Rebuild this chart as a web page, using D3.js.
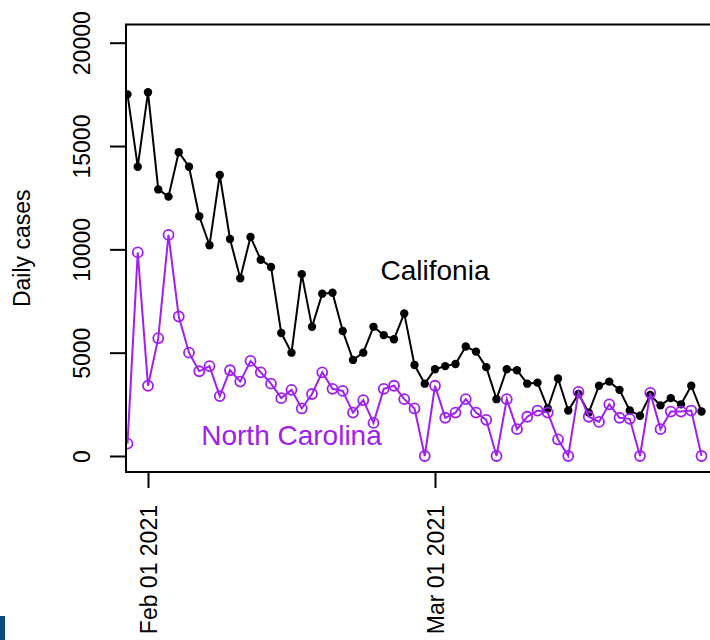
<!DOCTYPE html>
<html>
<head>
<meta charset="utf-8">
<script src="https://cdn.jsdelivr.net/npm/d3@7"></script>
<style>
  html, body { margin: 0; padding: 0; background: #fff; }
  svg { display: block; font-family: "Liberation Sans", Arial, Helvetica, sans-serif; }
</style>
</head>
<body>
<svg id="chart" width="710" height="640"></svg>
<script>
// Daily reported cases, 30 Jan 2021 to 27 Mar 2021
const startDate = new Date(2021, 0, 30);
const california = [17500, 14000, 17600, 12900, 12550, 14700, 14000, 11600, 10200, 13600,
  10500, 8600, 10600, 9500, 9150, 5950, 5000, 8800, 6250, 7850,
  7900, 6050, 4650, 5000, 6250, 5850, 5650, 6900, 4400, 3500,
  4200, 4350, 4450, 5300, 5050, 4300, 2750, 4200, 4150, 3500,
  3550, 2300, 3750, 2200, 3000, 2100, 3400, 3600, 3200, 2200,
  1950, 2950, 2450, 2800, 2500, 3400, 2150];
const northCarolina = [600, 9850, 3400, 5700, 10700, 6750, 5000, 4100, 4350, 2900,
  4150, 3600, 4600, 4050, 3500, 2800, 3200, 2300, 3000, 4050,
  3250, 3150, 2100, 2700, 1600, 3250, 3400, 2750, 2300, 0,
  3400, 1850, 2100, 2750, 2100, 1750, 0, 2750, 1300, 1900,
  2200, 2100, 800, 0, 3100, 1900, 1650, 2500, 1850, 1800,
  0, 3050, 1300, 2150, 2150, 2200, 0];
const dates = d3.timeDay.range(startDate, d3.timeDay.offset(startDate, california.length));

const yTicks = [0, 5000, 10000, 15000, 20000];
const xTicks = [new Date(2021, 1, 1), new Date(2021, 2, 1)];
const yLabel = "Daily cases";
const labelCA = { text: "Califonia", date: new Date(2021, 2, 1), value: 9000 };
const labelNC = { text: "North Carolina", date: new Date(2021, 1, 15), value: 1000 };

const svg = d3.select("#chart");
const box = { left: 126, top: 24.5, right: 730, bottom: 472 };

const x = d3.scaleTime()
  .domain([new Date(2021, 1, 1), new Date(2021, 2, 1)])
  .range([148, 435]);
const y = d3.scaleLinear()
  .domain([0, 20000])
  .range([456, 42.7]);

// clip region for the plotted data
svg.append("defs").append("clipPath").attr("id", "plotclip")
  .append("rect")
  .attr("x", box.left).attr("y", box.top)
  .attr("width", box.right - box.left).attr("height", box.bottom - box.top);

const plot = svg.append("g").attr("clip-path", "url(#plotclip)");

const line = d3.line()
  .x((d, i) => x(dates[i]))
  .y(d => y(d));

// California: black line with filled dots
plot.append("path")
  .datum(california)
  .attr("fill", "none")
  .attr("stroke", "#000")
  .attr("stroke-width", 2)
  .attr("d", line);
plot.append("g").selectAll("circle")
  .data(california)
  .join("circle")
  .attr("cx", (d, i) => x(dates[i]))
  .attr("cy", d => y(d))
  .attr("r", 4.2)
  .attr("fill", "#000");

// North Carolina: purple line with open circles
const purple = "#A020F0";
plot.append("path")
  .datum(northCarolina)
  .attr("fill", "none")
  .attr("stroke", purple)
  .attr("stroke-width", 2)
  .attr("d", line);
plot.append("g").selectAll("circle")
  .data(northCarolina)
  .join("circle")
  .attr("cx", (d, i) => x(dates[i]))
  .attr("cy", d => y(d))
  .attr("r", 5)
  .attr("fill", "none")
  .attr("stroke", purple)
  .attr("stroke-width", 1.8);

// series annotations
svg.append("text")
  .attr("x", x(labelCA.date)).attr("y", y(labelCA.value))
  .attr("text-anchor", "middle").attr("dominant-baseline", "central")
  .attr("font-size", 28).attr("fill", "#000")
  .text(labelCA.text);
svg.append("text")
  .attr("x", x(labelNC.date)).attr("y", y(labelNC.value))
  .attr("text-anchor", "middle").attr("dominant-baseline", "central")
  .attr("font-size", 28).attr("fill", purple)
  .text(labelNC.text);

// plot frame
svg.append("rect")
  .attr("x", box.left).attr("y", box.top)
  .attr("width", box.right - box.left).attr("height", box.bottom - box.top)
  .attr("fill", "none").attr("stroke", "#000").attr("stroke-width", 2);

// y axis
const yAxis = svg.append("g")
  .attr("transform", `translate(${box.left},0)`)
  .call(d3.axisLeft(y).tickValues(yTicks).tickSize(16).tickSizeOuter(0).tickFormat(d3.format("d")));
yAxis.select(".domain").remove();
yAxis.selectAll(".tick line").attr("stroke", "#000").attr("stroke-width", 2);
yAxis.selectAll(".tick text")
  .attr("transform", "rotate(-90)")
  .attr("x", 0).attr("y", -36).attr("dy", null)
  .attr("text-anchor", "middle")
  .attr("font-size", 23).attr("font-family", null).attr("fill", "#000");

// x axis
const xAxis = svg.append("g")
  .attr("transform", `translate(0,${box.bottom})`)
  .call(d3.axisBottom(x).tickValues(xTicks).tickSize(16).tickSizeOuter(0).tickFormat(d3.timeFormat("%b %d %Y")));
xAxis.select(".domain").remove();
xAxis.selectAll(".tick line").attr("stroke", "#000").attr("stroke-width", 2);
xAxis.selectAll(".tick text")
  .attr("transform", "rotate(-90)")
  .attr("x", -33).attr("y", 8).attr("dy", null)
  .attr("text-anchor", "end")
  .attr("font-size", 23).attr("font-family", null).attr("fill", "#000");

// y axis title
svg.append("text")
  .attr("transform", `translate(29.5,${(box.top + box.bottom) / 2}) rotate(-90)`)
  .attr("text-anchor", "middle")
  .attr("font-size", 23).attr("fill", "#000")
  .text(yLabel);

// corner marker
svg.append("rect")
  .attr("x", 0).attr("y", 616).attr("width", 5).attr("height", 24)
  .attr("fill", "#0e4a7e");
</script>
</body>
</html>
